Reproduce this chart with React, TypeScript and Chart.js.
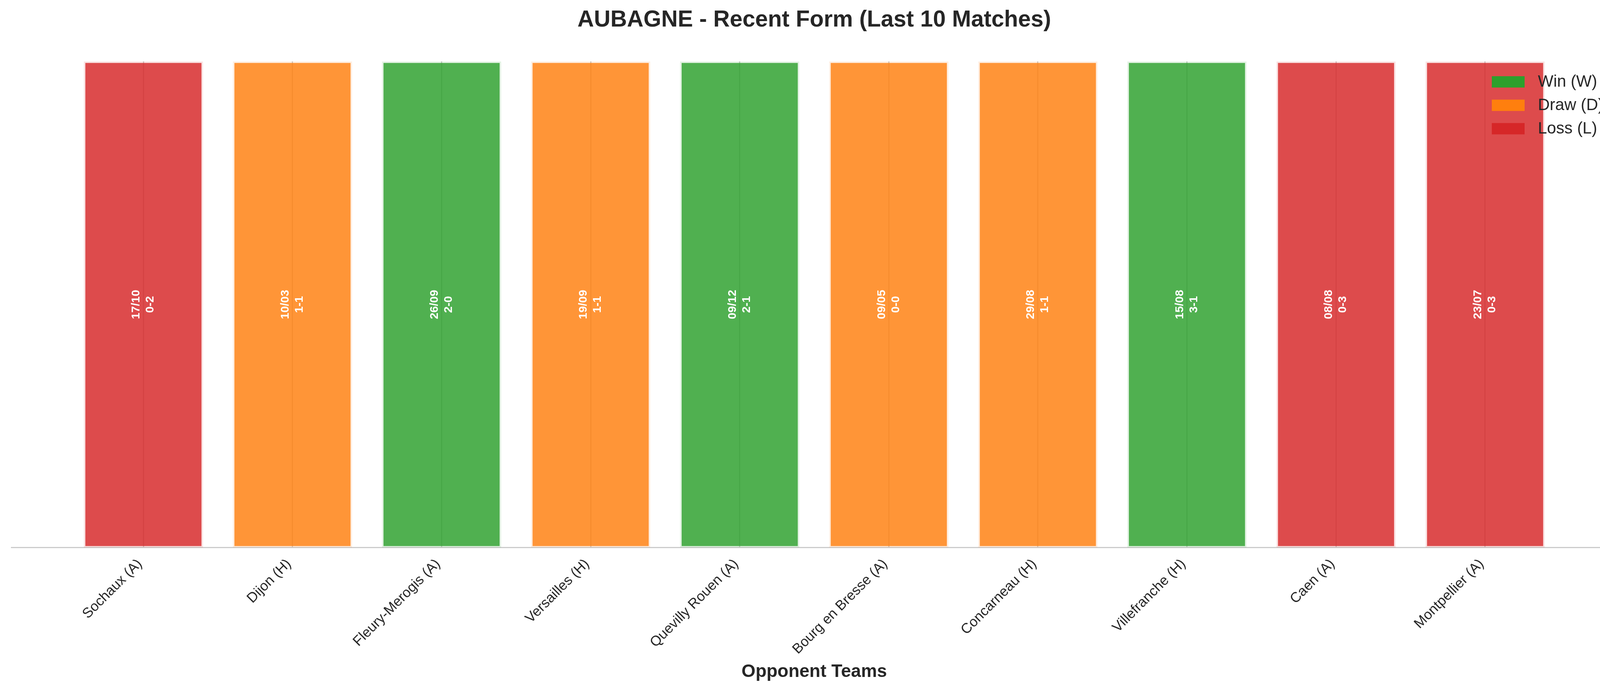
import { useEffect, useRef } from 'react'
import { Chart, registerables } from 'chart.js'

Chart.register(...registerables)

const OPPONENTS = [
  'Sochaux (A)', 'Dijon (H)', 'Fleury-Merogis (A)', 'Versailles (H)', 'Quevilly Rouen (A)',
  'Bourg en Bresse (A)', 'Concarneau (H)', 'Villefranche (H)', 'Caen (A)', 'Montpellier (A)',
]
const RESULTS = ['L', 'D', 'W', 'D', 'W', 'D', 'D', 'W', 'L', 'L']
const DATES = ['17/10', '10/03', '26/09', '19/09', '09/12', '09/05', '29/08', '15/08', '08/08', '23/07']
const SCORES = ['0-2', '1-1', '2-0', '1-1', '2-1', '0-0', '1-1', '3-1', '0-3', '0-3']
const BAR_VALUES = [1, 1, 1, 1, 1, 1, 1, 1, 1, 1]

const LEGEND_KEYS = ['W', 'D', 'L']
const LEGEND_TEXT = ['Win (W)', 'Draw (D)', 'Loss (L)']

const COLORS: Record<string, string> = { W: '#2ca02c', D: '#ff7f0e', L: '#d62728' }

const FONT = '"Liberation Sans", Arial, sans-serif'
const TEXT = '#262626'

function rgba(hex: string, a: number) {
  const n = parseInt(hex.slice(1), 16)
  return `rgba(${(n >> 16) & 255},${(n >> 8) & 255},${n & 255},${a})`
}

// date + score written sideways in the middle of each bar
const barLabels = {
  id: 'barLabels',
  afterDatasetsDraw(chart: Chart) {
    const { ctx } = chart
    const meta = chart.getDatasetMeta(0)
    ctx.save()
    ctx.fillStyle = '#ffffff'
    ctx.font = `bold 30px ${FONT}`
    ctx.textAlign = 'center'
    ctx.textBaseline = 'middle'
    meta.data.forEach((bar: any, i: number) => {
      const { x, y, base } = bar.getProps(['x', 'y', 'base'], true)
      ctx.save()
      ctx.translate(x, (y + base) / 2)
      ctx.rotate(-Math.PI / 2)
      ctx.fillText(DATES[i], 0, -18)
      ctx.fillText(SCORES[i], 0, 18)
      ctx.restore()
    })
    ctx.restore()
  },
}

// legend sits inside the plot, on top of the last bar
const formLegend = {
  id: 'formLegend',
  afterDatasetsDraw(chart: Chart) {
    const { ctx, chartArea } = chart
    const boxX = chartArea.right - 321
    let y = chartArea.top + 38
    ctx.save()
    ctx.font = `42px ${FONT}`
    ctx.textAlign = 'left'
    ctx.textBaseline = 'middle'
    LEGEND_KEYS.forEach((k, i) => {
      ctx.fillStyle = COLORS[k]
      ctx.fillRect(boxX, y, 84, 29)
      ctx.fillStyle = TEXT
      ctx.fillText(LEGEND_TEXT[i], boxX + 118, y + 15)
      y += 60
    })
    ctx.restore()
  },
}

export default function App() {
  const ref = useRef<HTMLCanvasElement>(null)

  useEffect(() => {
    document.body.style.margin = '0'
    document.body.style.overflow = 'hidden'
    if (!ref.current) return
    const chart = new Chart(ref.current, {
      type: 'bar',
      data: {
        datasets: [{
          label: 'Form',
          data: BAR_VALUES.map((v, i) => ({ x: i, y: v })),
          backgroundColor: RESULTS.map(r => rgba(COLORS[r], 0.83)),
          borderColor: RESULTS.map(r => rgba(COLORS[r], 0.13)),
          borderWidth: 4,
          borderSkipped: false,
          barPercentage: 0.8,
          categoryPercentage: 1,
        }],
      },
      options: {
        responsive: false,
        devicePixelRatio: 1,
        animation: false,
        layout: { padding: { left: 29, right: 30, top: 0, bottom: 21 } },
        plugins: {
          legend: { display: false },
          tooltip: { enabled: false },
          title: {
            display: true,
            text: 'AUBAGNE - Recent Form (Last 10 Matches)',
            color: TEXT,
            font: { family: FONT, size: 58.5, weight: 'bold' },
            padding: { top: 17, bottom: 70 },
          },
        },
        scales: {
          x: {
            type: 'linear',
            min: -0.886,
            max: 9.886,
            offset: false,
            grid: { display: true, offset: false, color: '#cccccc', lineWidth: 3, drawTicks: false },
            border: { display: true, color: '#cccccc', width: 3 },
            ticks: {
              stepSize: 1,
              includeBounds: false,
              autoSkip: false,
              minRotation: 45,
              maxRotation: 45,
              padding: 21,
              labelOffset: -9,
              color: TEXT,
              font: { family: FONT, size: 36 },
              callback: (v: any) => (Number.isInteger(v) ? OPPONENTS[v] ?? '' : ''),
            },
            title: {
              display: true,
              text: 'Opponent Teams',
              color: TEXT,
              font: { family: FONT, size: 46, weight: 'bold' },
              padding: { top: -12, bottom: 0 },
            },
          },
          y: { display: false, min: 0, max: 1 },
        },
      },
      plugins: [barLabels, formLegend],
    })
    return () => chart.destroy()
  }, [])

  return (
    <div style={{ width: 4170, height: 1770, background: '#ffffff' }}>
      <canvas ref={ref} width={4170} height={1770} style={{ display: 'block' }} />
    </div>
  )
}
